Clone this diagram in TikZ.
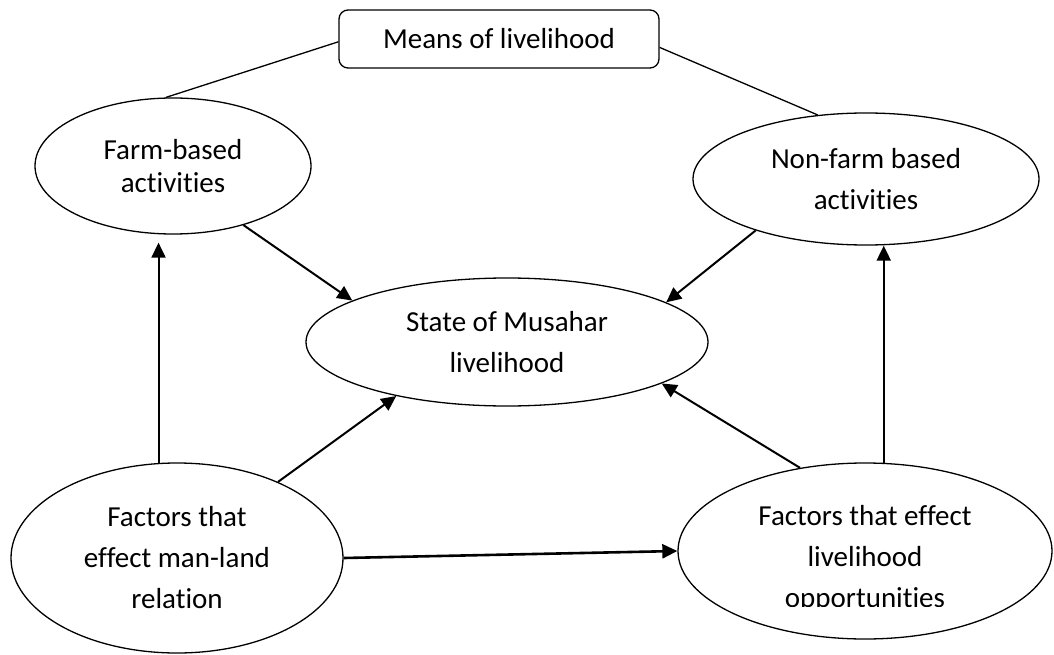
\documentclass[tikz,border=0pt]{standalone}
\usepackage{fontspec}
\setmainfont{Carlito}[Ligatures=NoCommon]
\usepackage{tikz}
\usetikzlibrary{arrows.meta,shapes.geometric}

\begin{document}
\begin{tikzpicture}[x=1pt, y=-1pt,
        oval/.style={draw, ellipse, line width=1.3pt, inner sep=0pt, align=center, font=\fontsize{29}{41}\selectfont},
        link/.style={line width=1.3pt},
        arr/.style={line width=2pt, -{Triangle[length=15pt, width=14pt]}}]
        \useasboundingbox (0,0) rectangle (1054,655);
        \node[draw, rounded corners=9pt, line width=1.3pt, minimum width=320pt, minimum height=58pt, font=\fontsize{29}{41}\selectfont] (M) at (499,39) {Means of livelihood};
        \node[oval, minimum width=276pt, minimum height=136pt, font=\fontsize{29}{33}\selectfont] (F) at (173,166) {Farm-based\\activities};
        \node[oval, minimum width=346pt, minimum height=132pt] (N) at (866,179) {Non-farm based\\activities};
        \node[oval, minimum width=402pt, minimum height=128pt] (S) at (507,342) {State of Musahar\\livelihood};
        \node[oval, minimum width=332pt, minimum height=190pt] (L) at (177,558) {Factors that\\effect man-land\\relation};
        \node[oval, minimum width=374pt, minimum height=176pt] (O) at (865,551) {};
        \coordinate (cut) at (0,606);
        \begin{scope}
            \clip (O.west |- O.north) rectangle (O.east |- cut);
            \node[align=center, inner sep=0pt, font=\fontsize{29}{41}\selectfont] (OT) at (865,559) {Factors that effect\\livelihood\\opportunities};
        \end{scope}
        \draw[link] (M.181) -- (F.96);
        \draw[link] (M.-3) -- (N.127);
        \draw[arr] (F.-40) -- (S.165);
        \draw[arr] (N.-155) -- (S.14);
        \draw[arr, shorten >=8pt] (L.101) -- (L.101 |- F.south);
        \draw[arr] (O.78) -- (O.78 |- N.south);
        \draw[arr] (L.37) -- (S.-154);
        \draw[arr] (O.128) -- (S.-15);
        \draw[arr, line width=2.6pt] (L.east) -- (O.west);
    \end{tikzpicture}
\end{document}
